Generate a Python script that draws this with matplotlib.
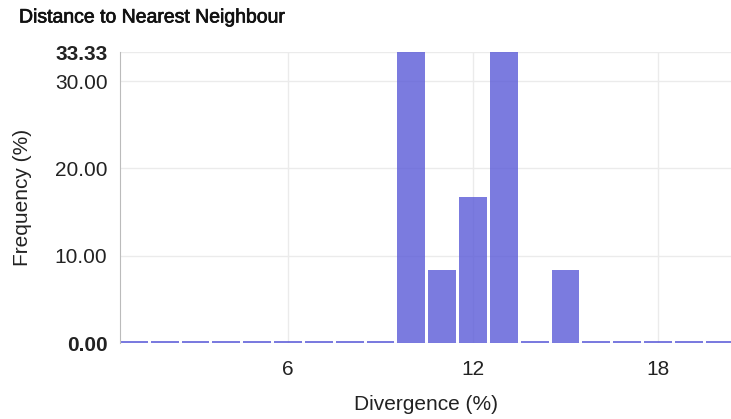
import matplotlib.pyplot as plt
import matplotlib.patheffects as pe

plt.rcParams['font.family'] = ['Liberation Sans', 'DejaVu Sans']

# divergence bins (%) and frequency (%)
divergence = list(range(1, 21))
frequency = [0, 0, 0, 0, 0, 0, 0, 0, 0, 33.33, 8.33, 16.67, 33.33, 0, 8.33, 0, 0, 0, 0, 0]
xticks = [6, 12, 18]
yticks = [0, 10, 20, 30, 33.33]
ytick_labels = ['0.00', '10.00', '20.00', '30.00', '33.33']

fig = plt.figure(figsize=(7.31, 4.19), dpi=100)
ax = fig.add_axes([120 / 731, 1 - 343 / 419, 1 - 120 / 731, (343 - 52) / 419])

# empty bins still get a thin sliver so they show on the baseline
heights = [max(v, 0.25) for v in frequency]
ax.bar(divergence, heights, width=0.9, color='#5a5ad8', alpha=0.8, zorder=2)

ax.set_xlim(0.55, 20.37)
ax.set_ylim(0, 33.33)
ax.set_xticks(xticks)
ax.set_yticks(yticks)
ax.set_yticklabels(ytick_labels)
for lbl in ax.get_yticklabels():
    if lbl.get_text() in ('0.00', '33.33'):
        lbl.set_fontweight('bold')
ax.tick_params(length=0, labelsize=15, colors='#222222', pad=9)
ax.tick_params(axis='x', pad=12)

ax.grid(True, color='#ebebeb', linewidth=1, zorder=0)
ax.set_axisbelow(True)
for s in ['top', 'right', 'bottom']:
    ax.spines[s].set_visible(False)
ax.spines['left'].set_color('#bbbbbb')

ax.set_xlabel('Divergence (%)', fontsize=15, color='#222222', labelpad=12)
ax.yaxis.set_label_coords(-97 / 611, 0.5)
ax.set_ylabel('Frequency (%)', fontsize=15, color='#222222', va='center')
title = fig.text(19 / 731, 1 - 18 / 419, 'Distance to Nearest Neighbour', fontsize=14,
                 color='#111111', va='center', ha='left')
# the original title is a touch heavier than the regular face
title.set_path_effects([pe.withStroke(linewidth=0.5, foreground='#111111')])

fig.savefig('out.png', dpi=100)
